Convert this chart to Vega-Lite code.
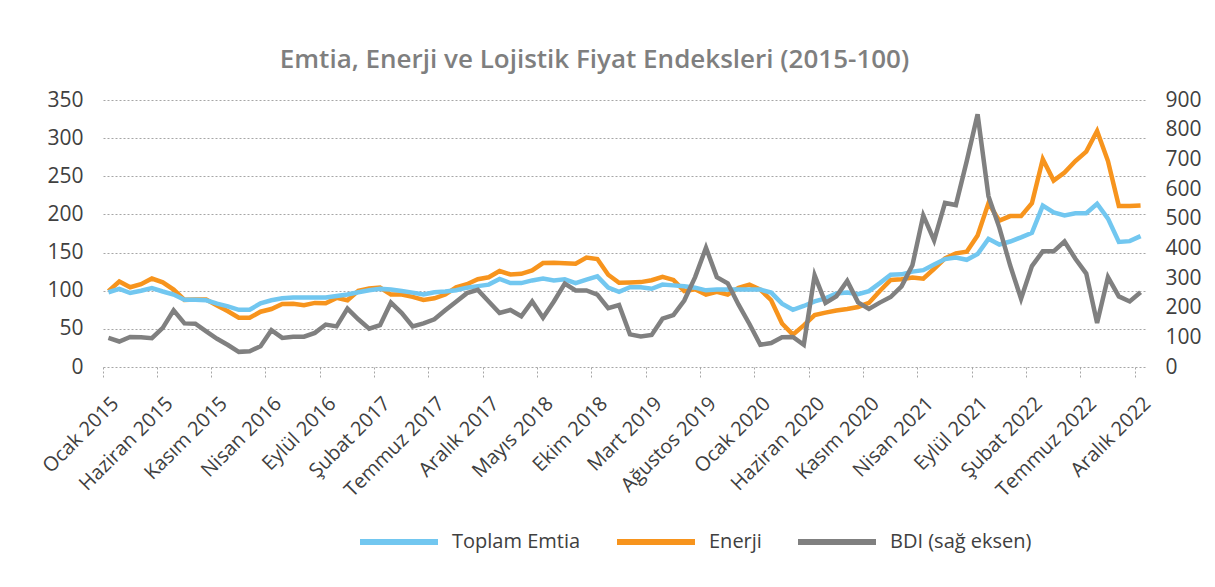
{
  "$schema": "https://vega.github.io/schema/vega-lite/v6.json",
  "width": 1043,
  "height": 267,
  "autosize": {"type": "none"},
  "padding": {"left": 103, "top": 100, "right": 69, "bottom": 220},
  "background": "white",
  "title": {
    "text": "Emtia, Enerji ve Lojistik Fiyat Endeksleri (2015-100)",
    "anchor": "middle",
    "dx": -30,
    "offset": 16,
    "fontSize": 26,
    "font": "Open Sans",
    "fontWeight": 600,
    "color": "#7f7f7f"
  },
  "config": {
    "font": "Open Sans",
    "view": {"stroke": null},
    "legend": {
      "orient": "none",
      "legendX": 254,
      "legendY": 400,
      "direction": "horizontal",
      "title": null,
      "symbolType": "stroke",
      "symbolSize": 6084,
      "symbolStrokeWidth": 6,
      "labelFontSize": 20,
      "labelFont": "Open Sans",
      "labelColor": "#404040",
      "labelOffset": 11,
      "columnPadding": 24
    }
  },
  "data": {
    "values": [
      {"ay": "Ocak 2015", "toplam": 98, "enerji": 99.5, "bdi": 98},
      {"ay": "Şubat 2015", "toplam": 102.5, "enerji": 112, "bdi": 86},
      {"ay": "Mart 2015", "toplam": 97, "enerji": 104.5, "bdi": 101},
      {"ay": "Nisan 2015", "toplam": 100, "enerji": 108.5, "bdi": 100},
      {"ay": "Mayıs 2015", "toplam": 103.5, "enerji": 116, "bdi": 97},
      {"ay": "Haziran 2015", "toplam": 99, "enerji": 111, "bdi": 132},
      {"ay": "Temmuz 2015", "toplam": 95, "enerji": 101.5, "bdi": 191},
      {"ay": "Ağustos 2015", "toplam": 88, "enerji": 88, "bdi": 147},
      {"ay": "Eylül 2015", "toplam": 88, "enerji": 88.5, "bdi": 146},
      {"ay": "Ekim 2015", "toplam": 87.5, "enerji": 88.5, "bdi": 120},
      {"ay": "Kasım 2015", "toplam": 83, "enerji": 80.5, "bdi": 95},
      {"ay": "Aralık 2015", "toplam": 79.5, "enerji": 73, "bdi": 74},
      {"ay": "Ocak 2016", "toplam": 75, "enerji": 64.5, "bdi": 51},
      {"ay": "Şubat 2016", "toplam": 75, "enerji": 64.5, "bdi": 53},
      {"ay": "Mart 2016", "toplam": 83.5, "enerji": 72.5, "bdi": 70},
      {"ay": "Nisan 2016", "toplam": 87.5, "enerji": 76, "bdi": 124},
      {"ay": "Mayıs 2016", "toplam": 90, "enerji": 82.5, "bdi": 98},
      {"ay": "Haziran 2016", "toplam": 91, "enerji": 83, "bdi": 102},
      {"ay": "Temmuz 2016", "toplam": 91, "enerji": 81, "bdi": 102},
      {"ay": "Ağustos 2016", "toplam": 91, "enerji": 84, "bdi": 115},
      {"ay": "Eylül 2016", "toplam": 91, "enerji": 83.5, "bdi": 143},
      {"ay": "Ekim 2016", "toplam": 93, "enerji": 90.6, "bdi": 137},
      {"ay": "Kasım 2016", "toplam": 95, "enerji": 87.5, "bdi": 197},
      {"ay": "Aralık 2016", "toplam": 98, "enerji": 100, "bdi": 161},
      {"ay": "Ocak 2017", "toplam": 100.5, "enerji": 103, "bdi": 129},
      {"ay": "Şubat 2017", "toplam": 102.4, "enerji": 104, "bdi": 141},
      {"ay": "Mart 2017", "toplam": 101.5, "enerji": 95, "bdi": 217},
      {"ay": "Nisan 2017", "toplam": 99.5, "enerji": 95, "bdi": 182},
      {"ay": "Mayıs 2017", "toplam": 97.5, "enerji": 92, "bdi": 137},
      {"ay": "Haziran 2017", "toplam": 95, "enerji": 88, "bdi": 147},
      {"ay": "Temmuz 2017", "toplam": 98, "enerji": 90, "bdi": 161},
      {"ay": "Ağustos 2017", "toplam": 99, "enerji": 95, "bdi": 191},
      {"ay": "Eylül 2017", "toplam": 100.6, "enerji": 104.5, "bdi": 220},
      {"ay": "Ekim 2017", "toplam": 104, "enerji": 108.5, "bdi": 249},
      {"ay": "Kasım 2017", "toplam": 106, "enerji": 115, "bdi": 260},
      {"ay": "Aralık 2017", "toplam": 108, "enerji": 117.6, "bdi": 221},
      {"ay": "Ocak 2018", "toplam": 115.5, "enerji": 125.8, "bdi": 182},
      {"ay": "Şubat 2018", "toplam": 110, "enerji": 121.3, "bdi": 192},
      {"ay": "Mart 2018", "toplam": 110, "enerji": 122.2, "bdi": 171},
      {"ay": "Nisan 2018", "toplam": 113.5, "enerji": 126.6, "bdi": 221},
      {"ay": "Mayıs 2018", "toplam": 116, "enerji": 136.3, "bdi": 166},
      {"ay": "Haziran 2018", "toplam": 113.5, "enerji": 136.5, "bdi": 221},
      {"ay": "Temmuz 2018", "toplam": 115, "enerji": 136, "bdi": 281},
      {"ay": "Ağustos 2018", "toplam": 110, "enerji": 135.5, "bdi": 258},
      {"ay": "Eylül 2018", "toplam": 114.6, "enerji": 143.5, "bdi": 258},
      {"ay": "Ekim 2018", "toplam": 118.8, "enerji": 141.5, "bdi": 244},
      {"ay": "Kasım 2018", "toplam": 104, "enerji": 121, "bdi": 198},
      {"ay": "Aralık 2018", "toplam": 98.5, "enerji": 110.5, "bdi": 209},
      {"ay": "Ocak 2019", "toplam": 104.5, "enerji": 110.8, "bdi": 110},
      {"ay": "Şubat 2019", "toplam": 104.5, "enerji": 111.3, "bdi": 103},
      {"ay": "Mart 2019", "toplam": 102.5, "enerji": 113.8, "bdi": 108},
      {"ay": "Nisan 2019", "toplam": 108, "enerji": 118.3, "bdi": 163},
      {"ay": "Mayıs 2019", "toplam": 107, "enerji": 114.2, "bdi": 175},
      {"ay": "Haziran 2019", "toplam": 105.8, "enerji": 99.6, "bdi": 224},
      {"ay": "Temmuz 2019", "toplam": 104, "enerji": 102, "bdi": 303},
      {"ay": "Ağustos 2019", "toplam": 100.5, "enerji": 95, "bdi": 402},
      {"ay": "Eylül 2019", "toplam": 101.5, "enerji": 98.6, "bdi": 303},
      {"ay": "Ekim 2019", "toplam": 101.5, "enerji": 94.8, "bdi": 282},
      {"ay": "Kasım 2019", "toplam": 101.5, "enerji": 103.7, "bdi": 210},
      {"ay": "Aralık 2019", "toplam": 101.5, "enerji": 108, "bdi": 145},
      {"ay": "Ocak 2020", "toplam": 101.5, "enerji": 101.5, "bdi": 75},
      {"ay": "Şubat 2020", "toplam": 97.5, "enerji": 87.5, "bdi": 81},
      {"ay": "Mart 2020", "toplam": 83, "enerji": 57, "bdi": 100},
      {"ay": "Nisan 2020", "toplam": 75, "enerji": 42.4, "bdi": 101},
      {"ay": "Mayıs 2020", "toplam": 80, "enerji": 54.5, "bdi": 75},
      {"ay": "Haziran 2020", "toplam": 86, "enerji": 68, "bdi": 309},
      {"ay": "Temmuz 2020", "toplam": 90, "enerji": 71.3, "bdi": 216},
      {"ay": "Ağustos 2020", "toplam": 96.5, "enerji": 74.1, "bdi": 238},
      {"ay": "Eylül 2020", "toplam": 97.5, "enerji": 76.1, "bdi": 290},
      {"ay": "Ekim 2020", "toplam": 95.5, "enerji": 78.7, "bdi": 218},
      {"ay": "Kasım 2020", "toplam": 99.5, "enerji": 84, "bdi": 196},
      {"ay": "Aralık 2020", "toplam": 110, "enerji": 99.7, "bdi": 217},
      {"ay": "Ocak 2021", "toplam": 121, "enerji": 114, "bdi": 236},
      {"ay": "Şubat 2021", "toplam": 121.5, "enerji": 115, "bdi": 272},
      {"ay": "Mart 2021", "toplam": 125, "enerji": 117.4, "bdi": 343},
      {"ay": "Nisan 2021", "toplam": 127, "enerji": 115.8, "bdi": 511},
      {"ay": "Mayıs 2021", "toplam": 134.5, "enerji": 128.8, "bdi": 427},
      {"ay": "Haziran 2021", "toplam": 141.5, "enerji": 142.4, "bdi": 553},
      {"ay": "Temmuz 2021", "toplam": 143.5, "enerji": 149, "bdi": 546},
      {"ay": "Ağustos 2021", "toplam": 140.5, "enerji": 151.2, "bdi": 694},
      {"ay": "Eylül 2021", "toplam": 148, "enerji": 172.5, "bdi": 852},
      {"ay": "Ekim 2021", "toplam": 168, "enerji": 214.8, "bdi": 576},
      {"ay": "Kasım 2021", "toplam": 160.6, "enerji": 191.8, "bdi": 470},
      {"ay": "Aralık 2021", "toplam": 164.5, "enerji": 197.8, "bdi": 342},
      {"ay": "Ocak 2022", "toplam": 170, "enerji": 197.8, "bdi": 230},
      {"ay": "Şubat 2022", "toplam": 176, "enerji": 214.7, "bdi": 340},
      {"ay": "Mart 2022", "toplam": 211.5, "enerji": 272.5, "bdi": 390},
      {"ay": "Nisan 2022", "toplam": 202.5, "enerji": 244.3, "bdi": 390},
      {"ay": "Mayıs 2022", "toplam": 198.6, "enerji": 255, "bdi": 423},
      {"ay": "Haziran 2022", "toplam": 201.5, "enerji": 270, "bdi": 365},
      {"ay": "Temmuz 2022", "toplam": 201.5, "enerji": 282.3, "bdi": 315},
      {"ay": "Ağustos 2022", "toplam": 214, "enerji": 309.3, "bdi": 148},
      {"ay": "Eylül 2022", "toplam": 194.5, "enerji": 270, "bdi": 303},
      {"ay": "Ekim 2022", "toplam": 164, "enerji": 210.9, "bdi": 238},
      {"ay": "Kasım 2022", "toplam": 165, "enerji": 210.9, "bdi": 221},
      {"ay": "Aralık 2022", "toplam": 171.5, "enerji": 211.8, "bdi": 252}
    ]
  },
  "encoding": {
    "x": {
      "field": "ay",
      "type": "ordinal",
      "sort": null,
      "bandPosition": 0.5,
      "scale": {"type": "band", "paddingInner": 0, "paddingOuter": 0},
      "axis": {
        "values": ["Ocak 2015", "Haziran 2015", "Kasım 2015", "Nisan 2016", "Eylül 2016", "Şubat 2017", "Temmuz 2017", "Aralık 2017", "Mayıs 2018", "Ekim 2018", "Mart 2019", "Ağustos 2019", "Ocak 2020", "Haziran 2020", "Kasım 2020", "Nisan 2021", "Eylül 2021", "Şubat 2022", "Temmuz 2022", "Aralık 2022"],
        "bandPosition": 0,
        "title": null,
        "domain": false,
        "grid": false,
        "ticks": true,
        "tickSize": 10,
        "tickColor": "#a6a6a6",
        "tickDash": [2, 2],
        "labelAngle": -45,
        "labelAlign": "right",
        "labelBaseline": "top",
        "labelPadding": 16,
        "labelFontSize": 20,
        "labelFont": "Open Sans",
        "labelColor": "#404040",
        "labelOverlap": false,
        "labelBound": false
      }
    }
  },
  "layer": [
    {
      "layer": [
        {
          "mark": {"type": "line", "strokeWidth": 4.5},
          "encoding": {
            "y": {
              "field": "enerji",
              "type": "quantitative",
              "scale": {"domain": [0, 350]},
              "axis": {
                "title": null,
                "values": [0, 50, 100, 150, 200, 250, 300, 350],
                "domain": false,
                "ticks": false,
                "grid": true,
                "gridColor": "#a6a6a6",
                "gridDash": [2, 2],
                "labelPadding": 20,
                "labelFontSize": 21,
                "labelFont": "Open Sans",
                "labelColor": "#404040"
              }
            },
            "color": {
              "datum": "Enerji",
              "type": "nominal",
              "scale": {"domain": ["Toplam Emtia", "Enerji", "BDI (sağ eksen)"], "range": ["#72C7F0", "#F7941D", "#808080"]},
              "legend": {"title": null}
            }
          }
        },
        {
          "mark": {"type": "line", "strokeWidth": 4.5},
          "encoding": {
            "y": {
              "field": "toplam",
              "type": "quantitative",
              "scale": {"domain": [0, 350]},
              "axis": {
                "title": null,
                "values": [0, 50, 100, 150, 200, 250, 300, 350],
                "domain": false,
                "ticks": false,
                "grid": true,
                "gridColor": "#a6a6a6",
                "gridDash": [2, 2],
                "labelPadding": 20,
                "labelFontSize": 21,
                "labelFont": "Open Sans",
                "labelColor": "#404040"
              }
            },
            "color": {
              "datum": "Toplam Emtia",
              "type": "nominal",
              "legend": {"title": null}
            }
          }
        }
      ]
    },
    {
      "mark": {"type": "line", "strokeWidth": 4.5},
      "encoding": {
        "y": {
          "field": "bdi",
          "type": "quantitative",
          "scale": {"domain": [0, 900]},
          "axis": {
            "orient": "right",
            "title": null,
            "values": [0, 100, 200, 300, 400, 500, 600, 700, 800, 900],
            "domain": false,
            "ticks": false,
            "grid": false,
            "labelPadding": 19,
            "labelFontSize": 21,
            "labelFont": "Open Sans",
            "labelColor": "#404040"
          }
        },
        "color": {
          "datum": "BDI (sağ eksen)",
          "type": "nominal",
          "legend": {"title": null}
        }
      }
    }
  ],
  "resolve": {"scale": {"y": "independent"}}
}
